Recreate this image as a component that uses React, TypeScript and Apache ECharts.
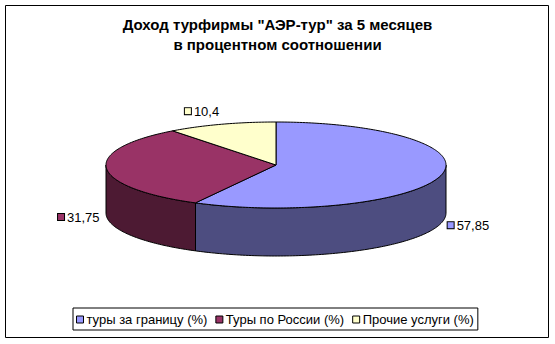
import React, { useEffect, useRef } from "react";
import * as echarts from "echarts";

const categories = ["туры за границу (%)", "Туры по России (%)", "Прочие услуги (%)"];
const values = [57.85, 31.75, 10.4];
const topColors = ["#9999FF", "#993366", "#FFFFCC"];
const sideColors = ["#4D4D80", "#4D1A33", "#808066"];
const titleLines = ['Доход турфирмы "АЭР-тур" за 5 месяцев', "в процентном соотношении"];

const CX = 276;
const CY = 165;
const RX = 170;
const RY = 43;
const DEPTH = 48;
const LABEL_OFF = 7;

function pt(deg: number, dy = 0, rx = RX, ry = RY): number[] {
  const r = (deg * Math.PI) / 180;
  return [CX + rx * Math.sin(r), CY - ry * Math.cos(r) + dy];
}

function arc(a: number, b: number, dy = 0): number[][] {
  const pts: number[][] = [];
  const n = Math.max(2, Math.ceil(Math.abs(b - a)));
  for (let k = 0; k <= n; k++) pts.push(pt(a + ((b - a) * k) / n, dy));
  return pts;
}

function fmt(v: number) {
  return String(v).replace(".", ",");
}

export default function App() {
  const ref = useRef<HTMLDivElement>(null);
  useEffect(() => {
    if (!ref.current) return;
    const chart = echarts.init(ref.current, undefined, { renderer: "svg" });
    const total = values.reduce((s, v) => s + v, 0);
    const series = categories.map((name, i) => {
      const before = values.slice(0, i).reduce((s, v) => s + v, 0);
      const start = (before / total) * 360;
      const end = ((before + values[i]) / total) * 360;
      return {
        type: "custom",
        name,
        coordinateSystem: "none",
        itemStyle: { color: topColors[i] },
        data: [values[i]],
        renderItem: () => {
          const children: any[] = [];
          const a = Math.max(start, 90);
          const b = Math.min(end, 270);
          if (a < b) {
            const topArc = arc(a, b);
            const botArc = arc(a, b, DEPTH).reverse();
            children.push({
              type: "polygon",
              shape: { points: topArc.concat(botArc) },
              style: { fill: sideColors[i], stroke: "#000", lineWidth: 1 },
            });
          }
          children.push({
            type: "polygon",
            shape: { points: [[CX, CY]].concat(arc(start, end)) },
            style: { fill: topColors[i], stroke: "#000", lineWidth: 1 },
          });
          const m = (start + end) / 2;
          const r = (m * Math.PI) / 180;
          const front = Math.cos(r) < 0;
          const p = pt(m, front ? DEPTH : 0, RX + LABEL_OFF, RY + LABEL_OFF);
          children.push({
            type: "text",
            x: p[0],
            y: p[1],
            z2: 10,
            style: {
              text: "{m|}{t|" + fmt(values[i]) + "}",
              align: Math.sin(r) >= 0 ? "left" : "right",
              verticalAlign: front ? "middle" : "bottom",
              rich: {
                m: {
                  width: 6,
                  height: 6,
                  backgroundColor: topColors[i],
                  borderColor: "#000",
                  borderWidth: 1,
                  verticalAlign: "middle",
                },
                t: {
                  fontFamily: "Arial",
                  fontSize: 13,
                  color: "#000",
                  padding: [0, 0, 0, 3],
                  verticalAlign: "middle",
                },
              },
            },
          });
          return { type: "group", children };
        },
      };
    });
    const titleStyle = {
      fontFamily: "Arial",
      fontSize: 15,
      fontWeight: "bold",
      color: "#000",
    };
    chart.setOption({
      animation: false,
      backgroundColor: "#fff",
      title: titleLines.map((t, i) => ({
        text: t,
        left: "center",
        top: 17 + i * 20,
        padding: 0,
        textStyle: titleStyle,
      })),
      legend: {
        data: categories,
        left: 73,
        top: 308,
        icon: "rect",
        itemWidth: 7,
        itemHeight: 7,
        itemGap: 8,
        itemStyle: { borderColor: "#000", borderWidth: 1 },
        textStyle: { fontFamily: "Arial", fontSize: 13, color: "#000", padding: [0, 0, 0, -2] },
        borderColor: "#000",
        borderWidth: 1,
        padding: [5, 4, 4, 3],
        selectedMode: false,
      },
      graphic: [
        {
          type: "rect",
          shape: { x: 5.5, y: 5.5, width: 543, height: 332 },
          style: { fill: "none", stroke: "#000", lineWidth: 1 },
          z: 100,
        },
      ],
      series,
    } as any);
    return () => chart.dispose();
  }, []);
  return (
    <div
      ref={ref}
      style={{ position: "fixed", left: 0, top: 0, width: 555, height: 344 }}
    />
  );
}
